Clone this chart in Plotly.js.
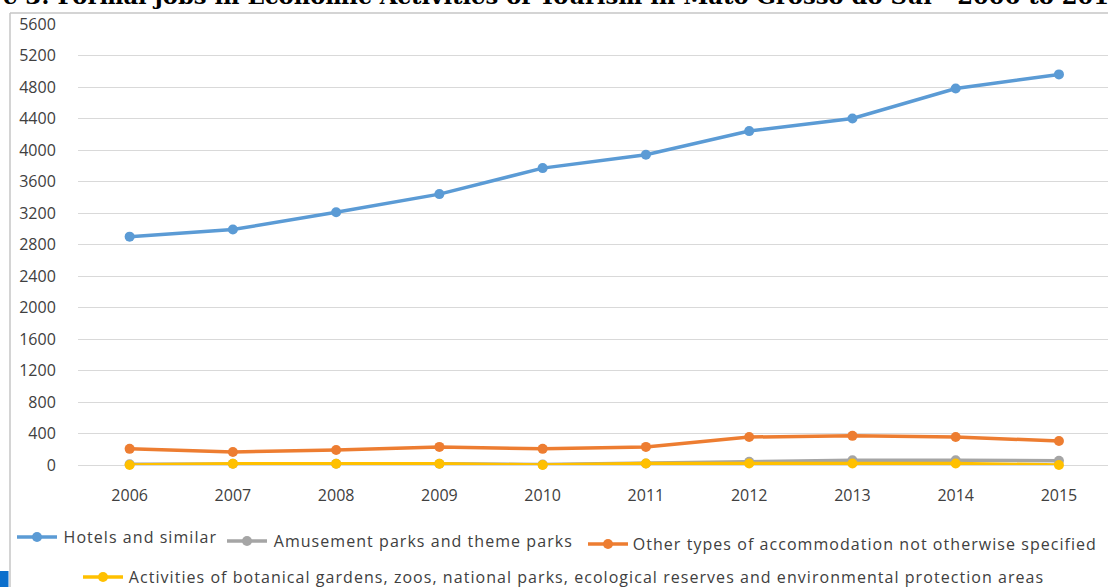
<!DOCTYPE html>
<html>
<head>
<meta charset="utf-8">
<script src="https://cdn.plot.ly/plotly-3.0.1.min.js"></script>
<style>
html,body{margin:0;padding:0;background:#fff;}
#chart{width:1108px;height:587px;}
#chart g.annotation:not([data-index="0"]) text{letter-spacing:1.05px;}
</style>
</head>
<body>
<div id="chart"></div>
<script>
const years = ["2006","2007","2008","2009","2010","2011","2012","2013","2014","2015"];
const seriesNames = [
  "Hotels and similar",
  "Amusement parks and theme parks",
  "Other types of accommodation not otherwise specified",
  "Activities of botanical gardens, zoos, national parks, ecological reserves and environmental protection areas"
];
const hotels = [2900, 2990, 3210, 3440, 3770, 3940, 4240, 4400, 4780, 4960];
const amusement = [10, 15, 15, 15, 5, 20, 40, 60, 60, 55];
const otherAccommodation = [205, 165, 190, 230, 205, 230, 355, 370, 355, 305];
const botanical = [0, 15, 15, 15, 0, 20, 20, 20, 20, 0];
const yTicks = [0,400,800,1200,1600,2000,2400,2800,3200,3600,4000,4400,4800,5200,5600];
const titleText = "Figure 3: Formal jobs in Economic Activities of Tourism in Mato Grosso do Sul - 2006 to 2015";

const colors = ["#5b9bd5", "#a5a5a5", "#ed7d31", "#ffc000"];
const allSeries = [hotels, amusement, otherAccommodation, botanical];

const W = 1108, H = 587, L = 78, R = 0, T = 24, B = 122;
const PW = W - L - R, PH = H - T - B;
const px = X => (X - L) / PW;
const py = Y => (H - B - Y) / PH;
const LS = 1.05; // legend letter spacing (px), matches the wide Excel text

const traces = allSeries.map((vals, i) => ({
  type: "scatter",
  mode: "lines+markers",
  x: years,
  y: vals,
  name: seriesNames[i],
  line: {color: colors[i], width: 3.5},
  marker: {color: colors[i], size: 10},
  cliponaxis: false,
  showlegend: false
}));

const shapes = [];
const annotations = [];

// title (partly cut off at the top edge, as in the reference)
annotations.push({xref: "paper", yref: "paper", x: px(-68), y: py(-4), xanchor: "left", yanchor: "middle",
  showarrow: false, text: "<b>" + titleText + "</b>",
  font: {family: "DejaVu Serif, serif", size: 22.7, color: "#000"}});

// custom legend layout (Excel-like placement)
const legendPos = [
  {lx: 17, ly: 537, tx: 62},
  {lx: 227, ly: 541, tx: 272},
  {lx: 588, ly: 544, tx: 631},
  {lx: 83, ly: 577, tx: 127}
];

legendPos.forEach((p, i) => {
  shapes.push({type: "line", xref: "paper", yref: "paper",
    x0: px(p.lx), x1: px(p.lx + 40), y0: py(p.ly), y1: py(p.ly),
    line: {color: colors[i], width: 3.5}});
  shapes.push({type: "circle", xref: "paper", yref: "paper",
    x0: px(p.lx + 15), x1: px(p.lx + 25), y0: py(p.ly - 5), y1: py(p.ly + 5),
    fillcolor: colors[i], line: {color: colors[i], width: 0}});
  const shift = seriesNames[i].length * LS / 2;
  annotations.push({xref: "paper", yref: "paper", x: px(p.tx + shift), y: py(p.ly),
    xanchor: "left", yanchor: "middle", showarrow: false, text: seriesNames[i],
    font: {family: "Open Sans, sans-serif", size: 16, color: "#404040"}});
});

// frame border and side bar
shapes.push({type: "line", xref: "paper", yref: "paper", x0: px(10), x1: px(1108), y0: py(13), y1: py(13),
  line: {color: "#c6c6c6", width: 1.5}});
shapes.push({type: "line", xref: "paper", yref: "paper", x0: px(10), x1: px(10), y0: py(13), y1: py(587),
  line: {color: "#c6c6c6", width: 1.5}});
shapes.push({type: "rect", xref: "paper", yref: "paper", x0: px(0), x1: px(8.5), y0: py(571), y1: py(587),
  fillcolor: "#0b6fcc", line: {width: 0}});

const layout = {
  width: W, height: H,
  margin: {l: L, r: R, t: T, b: B, pad: 0},
  paper_bgcolor: "#fff", plot_bgcolor: "#fff",
  showlegend: false,
  xaxis: {
    type: "category", range: [-0.5, 9.475],
    showgrid: false, showline: false, zeroline: false,
    ticks: "outside", ticklen: 16, tickcolor: "rgba(0,0,0,0)",
    tickfont: {family: "Open Sans, sans-serif", size: 16, color: "#404040"},
    fixedrange: true
  },
  yaxis: {
    range: [0, 5600], tickvals: yTicks, ticktext: yTicks.map(String),
    showgrid: true, gridcolor: "#d9d9d9", gridwidth: 1,
    zeroline: true, zerolinecolor: "#d9d9d9", zerolinewidth: 1,
    showline: false,
    ticks: "outside", ticklen: 18, tickcolor: "rgba(0,0,0,0)",
    tickfont: {family: "Open Sans, sans-serif", size: 16, color: "#404040"},
    fixedrange: true
  },
  shapes: shapes,
  annotations: annotations
};

Plotly.newPlot("chart", traces, layout, {staticPlot: true, displayModeBar: false});
</script>
</body>
</html>
